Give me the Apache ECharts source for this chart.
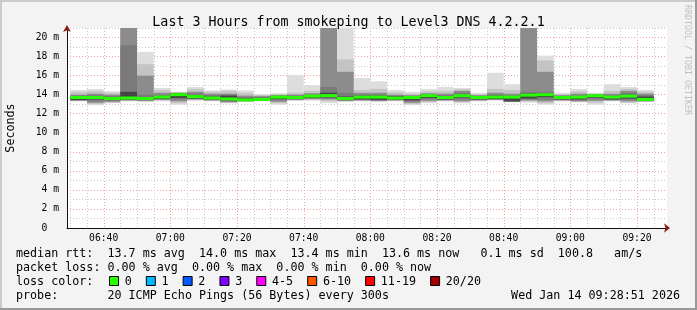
<!DOCTYPE html>
<html><head><meta charset="utf-8">
<script src="https://cdn.jsdelivr.net/npm/echarts@6/dist/echarts.min.js"></script>
<style>html,body{margin:0;padding:0;background:#f3f3f3}#c{width:697px;height:310px}</style>
</head><body><div id="c"></div>
<script>
// ---- data (5-minute smokeping slots, values in ms) ----
const slotStarts = ['06:30','06:35','06:40','06:45','06:50','06:55','07:00','07:05','07:10','07:15','07:20','07:25',
  '07:30','07:35','07:40','07:45','07:50','07:55','08:00','08:05','08:10','08:15','08:20','08:25',
  '08:30','08:35','08:40','08:45','08:50','08:55','09:00','09:05','09:10','09:15','09:20'];
const medianRtt = [13.7,13.7,13.6,13.65,13.6,13.75,14.0,13.8,13.65,13.55,13.45,13.5,
  13.75,13.7,13.85,13.9,13.6,13.75,13.75,13.65,13.7,13.9,13.7,13.9,
  13.7,13.75,13.75,13.95,14.0,13.7,13.75,13.9,13.75,13.85,13.5];
const smokeMax = [14.5,14.6,14.35,30,18.5,14.7,14.3,14.8,14.45,14.55,14.45,14.05,
  14.15,16.05,15.0,30,30,15.75,15.4,14.5,14.3,14.6,14.8,14.7,
  14.2,16.3,15.1,30,18.1,14.2,14.6,14.2,15.1,14.8,14.5];
const smokeHi1 = [14.3,14.4,14.2,30,17.2,14.5,14.25,14.6,14.3,14.4,14.2,13.95,
  14.05,14.2,14.4,30,17.7,14.5,14.6,14.25,14.1,14.35,14.4,14.55,
  14.05,14.6,14.5,30,17.6,14.05,14.35,14.1,14.4,14.6,14.3];
const smokeHi2 = [14.0,14.1,14.0,30,16.0,14.2,14.2,14.3,14.1,14.1,13.9,13.85,
  13.95,14.0,14.15,30,16.4,14.2,14.2,14.0,13.95,14.15,14.1,14.4,
  13.95,14.2,14.1,30,16.4,13.95,14.1,14.05,14.1,14.4,14.1];
const smokeHi3 = [13.9,13.95,13.85,19.2,14.0,14.0,14.15,14.1,13.95,14.0,13.75,13.75,
  13.9,13.9,14.0,14.8,14.2,14.0,14.0,13.9,13.85,14.05,13.95,14.2,
  13.85,14.0,13.95,14.3,14.3,13.85,13.95,14.0,13.95,14.2,13.95];
const smokeHi4 = [13.8,13.8,13.7,14.3,13.75,13.85,14.1,13.95,13.8,13.9,13.6,13.65,
  13.85,13.8,13.95,14.2,13.8,13.9,13.9,13.85,13.8,14.0,13.85,14.05,
  13.8,13.9,13.85,14.1,14.1,13.8,13.85,13.95,13.85,14.0,13.8];
const smokeLo4 = [13.45,13.5,13.45,13.5,13.45,13.55,13.65,13.6,13.5,13.4,13.35,13.4,
  13.55,13.55,13.65,13.7,13.45,13.5,13.45,13.5,13.4,13.65,13.5,13.7,
  13.5,13.55,13.3,13.6,13.75,13.5,13.5,13.7,13.5,13.6,13.35];
const smokeLo3 = [13.4,13.3,13.35,13.45,13.4,13.5,13.5,13.55,13.45,13.3,13.33,13.38,
  13.4,13.5,13.6,13.6,13.4,13.45,13.4,13.45,13.3,13.5,13.45,13.5,
  13.45,13.5,13.28,13.5,13.5,13.45,13.4,13.55,13.45,13.45,13.33];
const smokeLo2 = [13.38,13.15,13.25,13.4,13.35,13.45,13.3,13.5,13.4,13.2,13.3,13.36,
  13.25,13.45,13.55,13.5,13.35,13.4,13.35,13.4,13.15,13.35,13.4,13.3,
  13.4,13.45,13.26,13.4,13.3,13.4,13.3,13.35,13.4,13.3,13.3];
const smokeLo1 = [13.35,13.0,13.15,13.35,13.3,13.4,13.1,13.45,13.35,13.15,13.28,13.34,
  13.1,13.4,13.45,13.3,13.3,13.35,13.3,13.35,13.0,13.2,13.35,13.2,
  13.35,13.42,13.24,13.3,13.1,13.35,13.25,13.15,13.35,13.15,13.28];
const smokeMin = [13.3,12.9,13.1,13.3,13.25,13.3,12.95,13.35,13.3,13.1,13.25,13.3,
  12.95,13.35,13.35,13.1,13.25,13.3,13.25,13.3,12.9,13.1,13.3,13.1,
  13.3,13.4,13.2,13.15,12.95,13.3,13.2,12.95,13.3,13.1,13.25];

const xTickLabels = ['06:40','07:00','07:20','07:40','08:00','08:20','08:40','09:00','09:20'];
const lossLabels = ['0','1','2','3','4-5','6-10','11-19','20/20'];
const lossColors = ['#26ff00','#00b8ff','#0059ff','#7e00ff','#ff00ff','#ff5500','#ff0000','#a10000'];
const titleText = 'Last 3 Hours from smokeping to Level3 DNS 4.2.2.1';
const statsRtt = 'median rtt:  13.7 ms avg  14.0 ms max  13.4 ms min  13.6 ms now   0.1 ms sd  100.8   am/s';
const statsLoss = 'packet loss: 0.00 % avg  0.00 % max  0.00 % min  0.00 % now';
const lossTitle = 'loss color:';
const probeText = 'probe:       20 ICMP Echo Pings (56 Bytes) every 300s';
const stampText = 'Wed Jan 14 09:28:51 2026';
const credit = 'RRDTOOL / TOBI OETIKER';

// ---- helpers ----
const MONO = '"DejaVu Sans Mono", monospace';
const STEP = 5;
const X_MIN = 6*60+29, X_MAX = 9*60+29, Y_MAX = 21;
function toMin(s){const p=s.split(':').map(Number);return p[0]*60+p[1];}
function fmt(v){const h=Math.floor(v/60),m=Math.round(v%60);return (h<10?'0':'')+h+':'+(m<10?'0':'')+m;}

function bandRender(color){
  return function(params, api){
    const a = api.coord([api.value(0), api.value(3)]);
    const b = api.coord([api.value(1), api.value(2)]);
    const cs = params.coordSys;
    const shape = echarts.graphic.clipRectByRect(
      {x:a[0], y:a[1], width:b[0]-a[0], height:b[1]-a[1]},
      {x:cs.x, y:cs.y, width:cs.width, height:cs.height});
    return shape && {type:'rect', shape:shape, style:{fill:color}};
  };
}
const bands = [
  [smokeMin, smokeMax, '#dddddd'],
  [smokeLo1, smokeHi1, '#c4c4c4'],
  [smokeLo2, smokeHi2, '#8c8c8c'],
  [smokeLo3, smokeHi3, '#7a7a7a'],
  [smokeLo4, smokeHi4, '#454545']
];
const series = [];

// vertical grid lines from tick arrays
const majorMins = xTickLabels.map(toMin);
const minorMins = [];
for (let t = toMin(slotStarts[0]); t <= X_MAX; t += STEP) if (majorMins.indexOf(t) < 0) minorMins.push(t);
function vline(color){
  return function(params, api){
    const x = Math.round(api.coord([api.value(0), 0])[0]) + 0.5;
    const cs = params.coordSys;
    return {type:'line', shape:{x1:x, y1:cs.y, x2:x, y2:cs.y+cs.height},
      style:{stroke:color, lineWidth:1, lineDash:[1,2]}};
  };
}
series.push({type:'custom', silent:true, z:1, data:minorMins.map(v=>[v,0]), encode:{x:0,y:1}, renderItem:vline('#c8c8c8')});
series.push({type:'custom', silent:true, z:1, data:majorMins.map(v=>[v,0]), encode:{x:0,y:1}, renderItem:vline('#f2a0a0')});

bands.forEach(function(b){
  series.push({type:'custom', silent:true, z:3,
    data: slotStarts.map((t,i)=>[toMin(t), toMin(t)+STEP, b[0][i], b[1][i]]),
    encode:{x:[0,1], y:[2,3]}, renderItem: bandRender(b[2])});
});
series.push({type:'custom', silent:true, z:4,
  data: slotStarts.map((t,i)=>[toMin(t), toMin(t)+STEP, medianRtt[i]]),
  encode:{x:[0,1], y:2},
  renderItem: function(params, api){
    const a = api.coord([api.value(0), api.value(2)]);
    const b = api.coord([api.value(1), api.value(2)]);
    return {type:'rect', shape:{x:a[0], y:a[1]-1.5, width:b[0]-a[0], height:3}, style:{fill:lossColors[0]}};
  }});

// legend graphics
const graphic = [
  {type:'rect', shape:{x:0,y:0,width:697,height:2}, style:{fill:'#cbcbcb'}, silent:true},
  {type:'rect', shape:{x:0,y:0,width:2,height:310}, style:{fill:'#cbcbcb'}, silent:true},
  {type:'rect', shape:{x:695,y:0,width:2,height:310}, style:{fill:'#999999'}, silent:true},
  {type:'rect', shape:{x:0,y:308,width:697,height:2}, style:{fill:'#999999'}, silent:true},
  {type:'text', x:16, y:254.3, style:{text:statsRtt, font:'11.7px '+MONO, fill:'#000', verticalAlign:'middle'}},
  {type:'text', x:16, y:268, style:{text:statsLoss, font:'11.7px '+MONO, fill:'#000', verticalAlign:'middle'}},
  {type:'text', x:16, y:281.7, style:{text:lossTitle, font:'11.7px '+MONO, fill:'#000', verticalAlign:'middle'}},
  {type:'text', x:16, y:295.7, style:{text:probeText, font:'11.7px '+MONO, fill:'#000', verticalAlign:'middle'}},
  {type:'text', x:680, y:295.7, style:{text:stampText, font:'11.7px '+MONO, fill:'#000', verticalAlign:'middle', align:'right'}},
  {type:'text', x:687.5, y:5, rotation:-Math.PI/2, style:{text:credit, font:'8.3px '+MONO, fill:'#c0c0c0', verticalAlign:'middle', align:'left'}}
];
let lx = 109;
lossLabels.forEach(function(lab, i){
  graphic.push({type:'rect', shape:{x:lx+0.5, y:276.5, width:9, height:9}, style:{fill:lossColors[i], stroke:'#000', lineWidth:1}});
  graphic.push({type:'text', x:lx+15.7, y:281.7, style:{text:lab, font:'11.7px '+MONO, fill:'#000', verticalAlign:'middle'}});
  lx += 15.7 + 7.04*(lab.length+2);
});

const chart = echarts.init(document.getElementById('c'), null, {renderer:'canvas'});
chart.setOption({
  animation:false,
  backgroundColor:'#f3f3f3',
  title:{text:titleText, left:'center', top:11, textStyle:{fontFamily:MONO, fontSize:13.3, fontWeight:'normal', color:'#000'}},
  grid:{left:67, right:30, top:28, bottom:82, show:true, backgroundColor:'#ffffff', borderWidth:0, containLabel:false, outerBoundsMode:'none'},
  xAxis:[
    {type:'value', min:X_MIN, max:X_MAX, position:'bottom',
     axisLine:{show:true, onZero:false, lineStyle:{color:'#8b1a1a', width:0.01}, symbol:['none','arrow'], symbolSize:[7,6], symbolOffset:[0,3]},
     axisTick:{show:false}, axisLabel:{show:false}, splitLine:{show:false}},
    {type:'value', min:X_MIN, max:X_MAX, position:'bottom',
     axisLine:{show:true, onZero:false, lineStyle:{color:'#111', width:1}},
     axisTick:{show:false}, splitLine:{show:false},
     axisLabel:{customValues:majorMins, formatter:fmt, fontFamily:MONO, fontSize:9.7, color:'#000', margin:5}}
  ],
  yAxis:[
    {type:'value', min:0, max:Y_MAX, interval:1,
     axisLine:{show:true, onZero:false, lineStyle:{color:'#111', width:1}},
     axisTick:{show:false},
     axisLabel:{formatter:function(v){return v%2?'':(v===0?'0  ':v+' m');}, fontFamily:MONO, fontSize:9.7, color:'#000', margin:8, showMaxLabel:false},
     splitLine:{show:true, lineStyle:{color:['#f2a0a0','#c8c8c8'], type:[1,2], width:1}},
     name:'Seconds', nameLocation:'middle', nameGap:50, nameRotate:90,
     nameTextStyle:{fontFamily:MONO, fontSize:11.7, color:'#000'}},
    {type:'value', min:0, max:Y_MAX, position:'left',
     axisLine:{show:true, onZero:false, lineStyle:{color:'#8b1a1a', width:0.01}, symbol:['none','arrow'], symbolSize:[6,7], symbolOffset:[0,3]},
     axisTick:{show:false}, axisLabel:{show:false}, splitLine:{show:false}}
  ],
  series: series.map(s=>Object.assign({xAxisIndex:1, yAxisIndex:0}, s)),
  graphic: graphic
});
</script></body></html>
